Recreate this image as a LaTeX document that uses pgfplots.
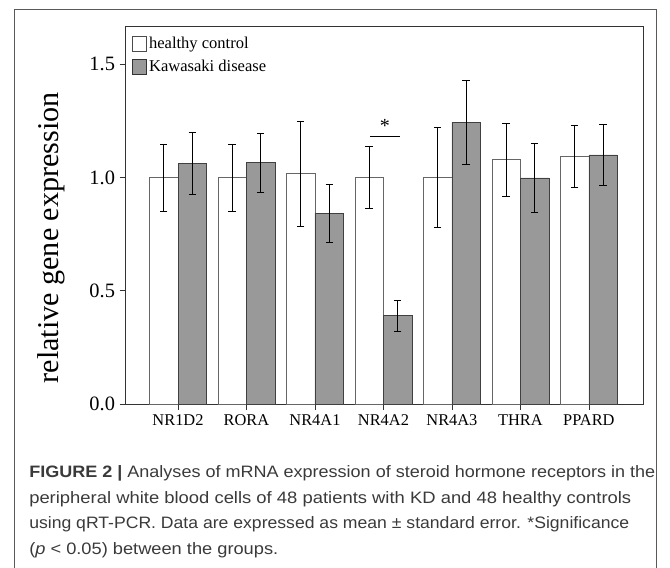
\documentclass[border=0pt]{standalone}
\usepackage{pgfplots}
\pgfplotsset{compat=1.18}
\usepackage{pgfplotstable}
\usepackage{graphicx}
\usepackage{fontspec}
\setmainfont{Liberation Serif}
\newfontfamily\capfont{Liberation Sans}
\definecolor{barfill}{HTML}{999999}
\definecolor{capcol}{HTML}{3A3A3A}

\pgfplotstableread{
x hc hce kd kde
0 1.000 0.148 1.062 0.137
1 1.000 0.148 1.065 0.130
2 1.017 0.232 0.842 0.128
3 1.000 0.138 0.391 0.068
4 1.000 0.221 1.243 0.185
5 1.078 0.160 0.998 0.153
6 1.094 0.138 1.100 0.135
}\datatable

\pgfplotstableread{
x y
2.80 1.179
3.24 1.179
}\sigline

\begin{document}
\begin{tikzpicture}
\useasboundingbox (0,0) rectangle (502.5pt,-425.25pt);
\draw[color=black!65, line width=0.6pt] (10.5pt,-430pt)--(10.5pt,-6.75pt)--(492.5pt,-6.75pt)--(492.5pt,-430pt);
\begin{axis}[
  at={(93.75pt,-303.2pt)}, anchor=south west,
  scale only axis, width=388.5pt, height=283.5pt,
  ybar, bar width=21.4pt,
  xmin=-0.774, xmax=6.79, ymin=0, ymax=1.667,
  axis line style={black!80, line width=0.6pt},
  xtick={0,...,6},
  xticklabels={NR1D2,RORA,NR4A1,NR4A2,NR4A3,THRA,PPARD},
  ytick={0,0.5,1,1.5},
  xtick pos=bottom, ytick pos=left,
  tick align=outside, major tick length=4pt,
  tick style={black!80, line width=0.6pt},
  /pgf/number format/assume math mode=true,
  y tick label style={/pgf/number format/fixed, /pgf/number format/fixed zerofill, /pgf/number format/precision=1, font=\fontsize{15.3}{18}\selectfont},
  x tick label style={font=\fontsize{12.3}{14}\selectfont},
  ylabel={relative gene expression},
  every axis y label/.style={at={(axis description cs:-0.1293,0.4405)}, rotate=90, anchor=base, font=\fontsize{22.6}{27}\selectfont},
  legend style={at={(axis description cs:0.0135,0.98)}, anchor=north west, draw=none, fill=none,
    font=\fontsize{12.4}{15}\selectfont, row sep=3.5pt, inner sep=0pt},
  legend cell align=left,
]
\addplot[bar shift=-10.7pt, fill=white, draw=black!60, line width=0.5pt,
  legend image code/.code={\draw[fill=white, draw=black!70, line width=0.6pt] (0pt,-5.6pt) rectangle (10pt,5.6pt);},
  error bars/.cd, y dir=both, y explicit,
  error bar style={black, line width=0.6pt},
  error mark options={black, rotate=90, mark size=2.8pt, line width=0.6pt}]
  table[x=x, y=hc, y error=hce]{\datatable};
\addlegendentry{healthy control}
\addplot[bar shift=10.7pt, fill=barfill, draw=black!75, line width=0.5pt,
  legend image code/.code={\draw[fill=barfill, draw=black!80, line width=0.6pt] (0pt,-5.6pt) rectangle (10pt,5.6pt);},
  error bars/.cd, y dir=both, y explicit,
  error bar style={black, line width=0.6pt},
  error mark options={black, rotate=90, mark size=2.8pt, line width=0.6pt}]
  table[x=x, y=kd, y error=kde]{\datatable};
\addlegendentry{Kawasaki disease}
\addplot[sharp plot, black, line width=0.7pt, forget plot, no markers] table[x=x, y=y]{\sigline};
\node[font=\fontsize{15}{16}\selectfont, anchor=base] at (axis cs:3.02,1.2) {*};
\end{axis}
\node[anchor=base west, inner sep=0pt, font=\capfont\fontsize{12.4}{14}\selectfont, text=capcol] at (21.75pt,-357.75pt)
  {\resizebox{469.5pt}{\height}{\textbf{FIGURE 2 |} Analyses of mRNA expression of steroid hormone receptors in the}};
\node[anchor=base west, inner sep=0pt, font=\capfont\fontsize{12.4}{14}\selectfont, text=capcol] at (21.75pt,-377.25pt)
  {\resizebox{451.5pt}{\height}{peripheral white blood cells of 48 patients with KD and 48 healthy controls}};
\node[anchor=base west, inner sep=0pt, font=\capfont\fontsize{12.4}{14}\selectfont, text=capcol] at (21.75pt,-396.4pt)
  {\resizebox{450pt}{\height}{using qRT-PCR. Data are expressed as mean ± standard error. *Significance}};
\node[anchor=base west, inner sep=0pt, font=\capfont\fontsize{12.4}{14}\selectfont, text=capcol] at (21.75pt,-415.5pt)
  {\resizebox{186.75pt}{\height}{(\textit{p} < 0.05) between the groups.}};
\end{tikzpicture}
\end{document}
